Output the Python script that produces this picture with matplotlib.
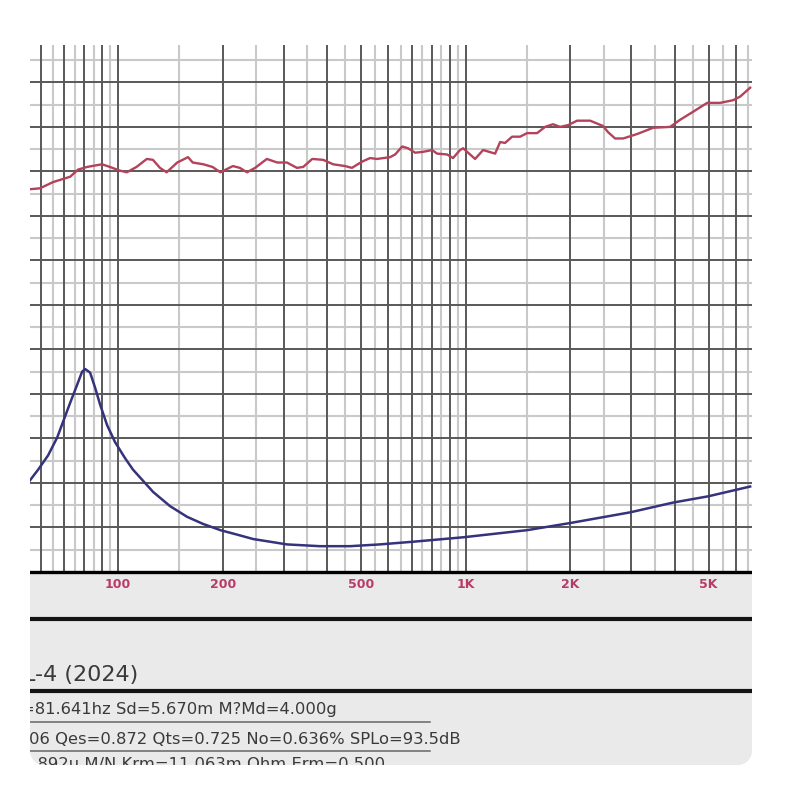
import numpy as np
import matplotlib
matplotlib.use("Agg")
import matplotlib.pyplot as plt
from matplotlib.path import Path
from matplotlib.patches import PathPatch, Rectangle
from matplotlib.lines import Line2D
from matplotlib.ticker import NullLocator

plt.rcParams["font.family"] = ["DejaVu Sans"]

# SPL response (red trace): Hz / dB
spl_freq = [55.8, 59.6, 65.0, 72.8, 76.7, 81.4, 89.9, 94.8, 101, 106,
            113, 121, 126, 132, 138, 148, 159, 164, 176, 187,
            197, 214, 224, 235, 248, 268, 287, 306, 327, 341,
            362, 389, 416, 450, 471, 504, 531, 556, 606, 627,
            657, 683, 716, 755, 801, 828, 885, 920, 964, 984,
            1065, 1123, 1216, 1257, 1299, 1361, 1435, 1503, 1606, 1693,
            1785, 1870, 1972, 2094, 2282, 2487, 2571, 2693, 2840, 3116,
            3464, 3877, 4143, 4515, 4955, 5400, 5886, 6165, 6588]
spl_db = [93.0, 93.1, 93.8, 94.4, 95.2, 95.5, 95.8, 95.5, 95.1, 94.9,
          95.5, 96.4, 96.3, 95.4, 94.9, 96.0, 96.6, 96.0, 95.8, 95.5,
          94.9, 95.6, 95.4, 94.9, 95.4, 96.4, 96.0, 96.0, 95.4, 95.5,
          96.4, 96.3, 95.8, 95.6, 95.4, 96.1, 96.5, 96.4, 96.6, 96.9,
          97.8, 97.6, 97.1, 97.2, 97.4, 97.0, 96.9, 96.5, 97.4, 97.6,
          96.4, 97.4, 97.0, 98.3, 98.2, 98.9, 98.9, 99.3, 99.3, 100.0,
          100.3, 100.0, 100.2, 100.7, 100.7, 100.1, 99.4, 98.7, 98.7, 99.2,
          99.9, 100.0, 100.8, 101.7, 102.7, 102.7, 103.0, 103.4, 104.4]

# impedance (blue trace): Hz / ohm
imp_freq = [55.8, 58.9, 62.9, 66.8, 69.5, 72.8, 76.2, 78.8, 80.4, 83.1,
            85.9, 88.8, 93.0, 98.0, 104.7, 110.4, 126.1, 141.1, 158.0, 175.6,
            197, 220, 245, 274, 306, 381, 465, 567, 706, 984,
            1503, 1999, 2974, 3955, 4987, 6588]
imp_ohm = [10.3, 11.5, 13.1, 15.1, 16.9, 19.0, 21.0, 22.5, 22.8, 22.4,
           20.7, 18.8, 16.5, 14.6, 12.8, 11.5, 9.0, 7.4, 6.2, 5.4,
           4.7, 4.2, 3.7, 3.4, 3.1, 2.9, 2.9, 3.1, 3.4, 3.9,
           4.7, 5.5, 6.7, 7.8, 8.5, 9.6]

tick_freqs = [100, 200, 500, 1000, 2000, 5000]
tick_labels = ["100", "200", "500", "1K", "2K", "5K"]

title_text = "L-4 (2024)"
param_lines = [
    "=81.641hz Sd=5.670m M?Md=4.000g",
    "06 Qes=0.872 Qts=0.725 No=0.636% SPLo=93.5dB",
    "1.892u M/N Krm=11.063m Ohm Erm=0.500",
]

W = H = 800


def fx(x):
    return x / W


def fy(y):
    return 1 - y / H


fig = plt.figure(figsize=(8, 8), dpi=100, facecolor="white")

# card background (grey lower panel)
fig.add_artist(Rectangle((fx(30), fy(765)), fx(722), 720 / H,
                         transform=fig.transFigure, facecolor="#eaeaea",
                         edgecolor="none", zorder=-1))

ax = fig.add_axes([fx(30), fy(572), fx(722), 527 / H])
ax.set_facecolor("white")
ax.set_xscale("log")
ax.set_xlim(55.8, 6670)
ax.set_ylim(50, 109.2)

# chart paper grid
dark_v = np.concatenate([np.arange(60, 100, 10), np.arange(100, 1000, 100),
                         np.arange(1000, 7000, 1000)])
light_v = np.concatenate([np.arange(65, 100, 10), np.arange(150, 1000, 100),
                          np.arange(1500, 7000, 1000)])
dark_h = np.arange(55, 109, 5)
light_h = np.arange(52.5, 109, 5)
ax.vlines(light_v, 50, 109.2, colors="#c9c9c9", lw=1.5, zorder=1)
ax.hlines(light_h, 55.8, 6670, colors="#c9c9c9", lw=1.5, zorder=1)
ax.vlines(dark_v, 50, 109.2, colors="#585858", lw=1.4, zorder=1.2)
ax.hlines(dark_h, 55.8, 6670, colors="#585858", lw=1.4, zorder=1.2)

ax.plot(spl_freq, spl_db, color="#b3425a", lw=1.7, zorder=3)

ax.set_xticks(tick_freqs, tick_labels)
ax.xaxis.set_minor_locator(NullLocator())
ax.tick_params(axis="x", length=0, pad=4, labelcolor="#b93a68", labelsize=9)
for lbl in ax.get_xticklabels():
    lbl.set_fontweight("bold")
ax.set_yticks([])
for side in ["top", "left", "right"]:
    ax.spines[side].set_visible(False)
ax.spines["bottom"].set_linewidth(2.4)
ax.spines["bottom"].set_color("black")

ax2 = ax.twinx()
ax2.set_ylim(0, 59.2)
ax2.set_yticks([])
for s in ax2.spines.values():
    s.set_visible(False)
ax2.plot(imp_freq, imp_ohm, color="#34337c", lw=1.8, zorder=3,
         solid_joinstyle="round")

# lower panel rules and text
for y, lw in [(619, 3.0), (691, 3.0)]:
    fig.add_artist(Line2D([fx(30), fx(752)], [fy(y), fy(y)],
                          transform=fig.transFigure, color="#141414", lw=lw))
for y in [722, 751]:
    fig.add_artist(Line2D([fx(30), fx(430)], [fy(y), fy(y)],
                          transform=fig.transFigure, color="#666666", lw=1.1))

fig.text(fx(23), fy(681), title_text, fontsize=16, color="#3a3a3a",
         va="baseline")
for (x, y), line in zip([(21, 714), (29, 744), (22, 769)], param_lines):
    fig.text(fx(x), fy(y), line, fontsize=11.8, color="#3a3a3a",
             va="baseline")

# white surround with rounded lower corners (card edge)
L, R, B, T, r = fx(30), fx(752), fy(765), fy(45), 14 / W
a1 = np.linspace(0, -np.pi / 2, 12)
a2 = np.linspace(-np.pi / 2, -np.pi, 12)
inner = [(L, T), (R, T)]
inner += list(zip(R - r + r * np.cos(a1), B + r + r * np.sin(a1)))
inner += list(zip(L + r + r * np.cos(a2), B + r + r * np.sin(a2)))
inner += [(L, T)]
outer = [(-0.1, -0.1), (1.1, -0.1), (1.1, 1.1), (-0.1, 1.1), (-0.1, -0.1)]
verts = outer + inner
codes = ([Path.MOVETO] + [Path.LINETO] * 3 + [Path.CLOSEPOLY]
         + [Path.MOVETO] + [Path.LINETO] * (len(inner) - 2) + [Path.CLOSEPOLY])
fig.add_artist(PathPatch(Path(verts, codes), transform=fig.transFigure,
                         facecolor="white", edgecolor="none", zorder=10))

fig.savefig("out.png", dpi=100)
